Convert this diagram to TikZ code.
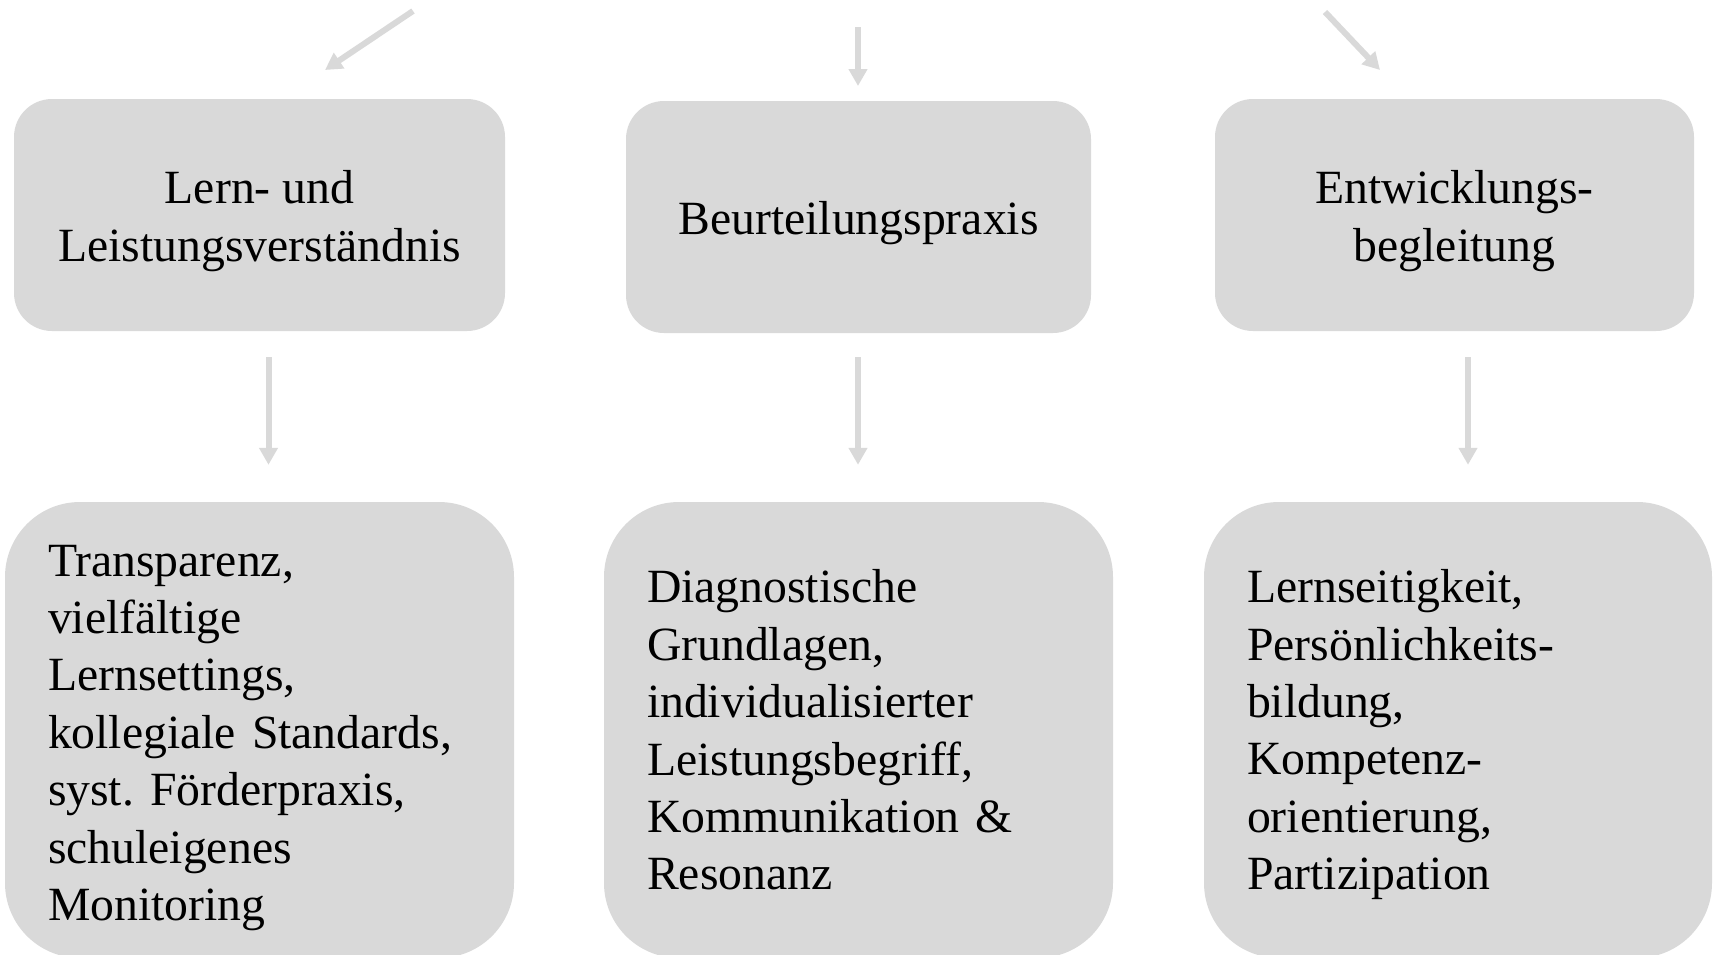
\documentclass[tikz,border=0pt]{standalone}
\usepackage{fontspec}
\setmainfont{Liberation Serif}
\usepackage{xcolor}
\usetikzlibrary{arrows.meta}
\definecolor{boxgray}{RGB}{217,217,217}
\newcommand{\topstrut}[1]{\rule{0pt}{#1}}
\frenchspacing

\begin{document}
\begin{tikzpicture}[x=1pt,y=-1pt,
    font=\fontsize{47.7}{57.4}\selectfont,
    topbox/.style={fill=boxgray, rounded corners=38pt, minimum height=232pt, align=center, inner sep=0pt},
    lowbox/.style={fill=boxgray, rounded corners=75pt, minimum height=456pt, align=left, inner xsep=43pt, inner ysep=0pt},
    arrow/.style={draw=boxgray, line width=6pt, -{Triangle[width=18pt,length=17pt]}}]
    \useasboundingbox (0,0) rectangle (1717,954);

    % upper row
    \node[topbox, minimum width=491pt] (lern) at (259.5,215) {\topstrut{45.6pt}Lern- und\\Leistungsverständnis};
    \node[topbox, minimum width=465pt] (beur) at (858.5,217) {\topstrut{45.8pt}Beurteilungspraxis};
    \node[topbox, minimum width=479pt] (entw) at (1454.5,215) {\topstrut{45.6pt}Entwicklungs-\\begleitung};

    % lower row
    \node[lowbox, text width=423pt] (trans) at (259.5,730) {\topstrut{46.8pt}Transparenz,\\vielfältige\\Lernsettings,\\kollegiale Standards,\\syst. Förderpraxis,\\schuleigenes\\Monitoring};
    \node[lowbox, text width=423pt] (diag) at (858.5,730) {Diagnostische\\Grundlagen,\\individualisierter\\Leistungsbegriff,\\Kommunikation \&\\Resonanz};
    \node[lowbox, text width=422pt] (lsei) at (1458,730) {\topstrut{42.6pt}Lernseitigkeit,\\Persönlichkeits-\\bildung,\\Kompetenz-\\orientierung,\\Partizipation};

    % arrows coming in from above
    \coordinate (inl) at (413,11);
    \coordinate (outl) at (325,70);
    \coordinate (inm) at (858,27);
    \coordinate (outm) at (858,86);
    \coordinate (inr) at (1325,12);
    \coordinate (outr) at (1380,70);
    \draw[arrow] (inl) -- (outl);
    \draw[arrow] (inm) -- (outm);
    \draw[arrow] (inr) -- (outr);

    % arrows between the rows
    \coordinate (sl) at ([xshift=9pt]lern.south);
    \coordinate (sm) at ([xshift=-0.5pt]beur.south);
    \coordinate (sr) at ([xshift=13.5pt]entw.south);
    \draw[arrow, shorten <=26pt, shorten >=37pt] (sl) -- (sl |- trans.north);
    \draw[arrow, shorten <=24pt, shorten >=37pt] (sm) -- (sm |- diag.north);
    \draw[arrow, shorten <=26pt, shorten >=37pt] (sr) -- (sr |- lsei.north);
\end{tikzpicture}
\end{document}
